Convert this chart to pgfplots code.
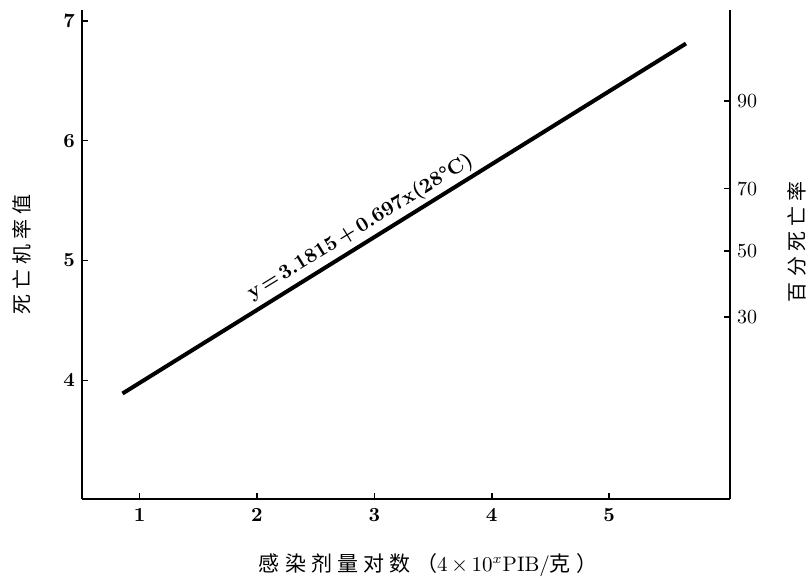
\documentclass[border=0pt]{standalone}
\usepackage{pgfplots}
\pgfplotsset{compat=1.18}
\usepackage{fontspec}
\newfontfamily\cjk{Noto Sans CJK SC}
\newcommand{\cs}{\hspace{2.6pt}}
\begin{document}
\begin{tikzpicture}
\path[use as bounding box] (-41pt,-39.5pt) rectangle (363.5pt,249.5pt);
\begin{axis}[
  at={(0,0)}, anchor=south west,
  scale only axis, width=324pt, height=244.5pt,
  xmin=0.51, xmax=6.03, ymin=3.01, ymax=7.09,
  axis x line*=bottom, axis y line*=left,
  axis line style={line width=1pt, black},
  tick align=inside, major tick length=3pt,
  tick style={line width=0.8pt, black},
  xtick={1,2,3,4,5}, ytick={4,5,6,7},
  /pgf/number format/assume math mode=true,
  ticklabel style={font=\bfseries\fontsize{10}{12}\selectfont},
  xticklabel style={yshift=-1pt},
  xlabel={{\cjk 感\cs 染\cs 剂\cs 量\cs 对\cs 数\cs （}4\,$\times$\,10$^{x}$PIB/{\cjk 克\cs ）}},
  xlabel style={at={(axis description cs:0.534,-0.135)}, anchor=center, font=\fontsize{10.5}{12}\selectfont},
  ylabel={\cjk 死\cs 亡\cs 机\cs 率\cs 值},
  ylabel style={at={(axis description cs:-0.093,0.5)}, anchor=center, font=\fontsize{10}{12}\selectfont},
]
\addplot[black, line width=2pt] coordinates {(0.855,3.89) (5.655,6.81)};
\node[rotate=31.5, anchor=south, inner sep=2.5pt, font=\bfseries\fontsize{10.2}{12}\selectfont]
  at (axis cs:2.95,5.165) {y\,=\,3.1815\,+\,0.697x(28°C)};
\end{axis}
\begin{axis}[
  at={(0,0)}, anchor=south west,
  scale only axis, width=324pt, height=244.5pt,
  xmin=0.51, xmax=6.03, ymin=3.01, ymax=7.09,
  hide x axis, axis y line*=right,
  axis line style={line width=1pt, black},
  tick align=inside, major tick length=3pt,
  tick style={line width=0.8pt, black},
  ytick={6.33,5.60,5.08,4.53}, yticklabels={90,70,50,30},
  /pgf/number format/assume math mode=true,
  yticklabel style={font=\fontsize{10}{12}\selectfont},
  ylabel={\cjk 百\cs 分\cs 死\cs 亡\cs 率},
  ylabel style={at={(axis description cs:1.103,0.526)}, anchor=center, rotate=0, font=\fontsize{10}{12}\selectfont},
]
\addplot[draw=none] coordinates {(1,4)};
\end{axis}
\end{tikzpicture}
\end{document}
